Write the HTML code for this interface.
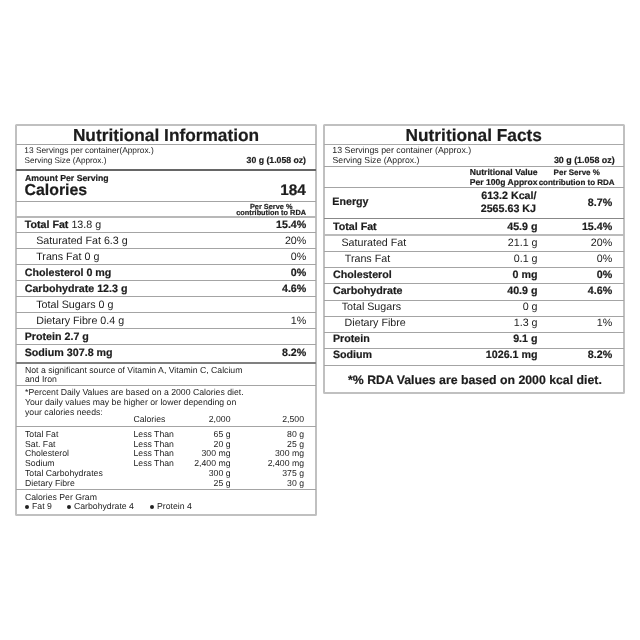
<!DOCTYPE html>
<html><head><meta charset="utf-8"><style>
html,body{margin:0;padding:0;background:#fff;}
body{width:640px;height:640px;position:relative;overflow:hidden;text-rendering:geometricPrecision;font-family:"Liberation Sans",sans-serif;color:#1c1c1c;}
.t{position:absolute;white-space:pre;}
.l{position:absolute;}
#w{position:absolute;left:0;top:0;width:640px;height:640px;filter:blur(0.3px);}
b{font-weight:bold;-webkit-text-stroke:0.2px #1c1c1c;}
</style></head><body>
<div id="w">
<div class="l" style="left:15px;top:124px;width:298px;height:388px;border:2px solid #c0c0c0;border-radius:1.5px"></div>
<div class="l" style="left:16.00px;width:299.75px;top:143.90px;height:1px;background:#a4a4a4"></div>
<div class="l" style="left:16.00px;width:299.75px;top:168.50px;height:2px;background:#666"></div>
<div class="l" style="left:16.00px;width:299.75px;top:201.00px;height:1px;background:#a4a4a4"></div>
<div class="l" style="left:16.00px;width:299.75px;top:215.90px;height:2px;background:#b8b8b8"></div>
<div class="l" style="left:16.00px;width:299.75px;top:232.00px;height:1px;background:#a4a4a4"></div>
<div class="l" style="left:16.00px;width:299.75px;top:248.25px;height:1px;background:#a4a4a4"></div>
<div class="l" style="left:16.00px;width:299.75px;top:263.90px;height:1px;background:#a4a4a4"></div>
<div class="l" style="left:16.00px;width:299.75px;top:280.10px;height:1px;background:#a4a4a4"></div>
<div class="l" style="left:16.00px;width:299.75px;top:296.40px;height:1px;background:#a4a4a4"></div>
<div class="l" style="left:16.00px;width:299.75px;top:312.00px;height:1px;background:#a4a4a4"></div>
<div class="l" style="left:16.00px;width:299.75px;top:328.00px;height:1px;background:#a4a4a4"></div>
<div class="l" style="left:16.00px;width:299.75px;top:343.90px;height:1px;background:#a4a4a4"></div>
<div class="l" style="left:16.00px;width:299.75px;top:362.10px;height:2px;background:#808080"></div>
<div class="l" style="left:16.00px;width:299.75px;top:385.10px;height:1px;background:#a4a4a4"></div>
<div class="l" style="left:16.00px;width:299.75px;top:426.00px;height:1px;background:#a4a4a4"></div>
<div class="l" style="left:16.00px;width:299.75px;top:489.00px;height:1px;background:#a4a4a4"></div>
<div class="t" style="top:126.95px;font-size:17.3px;line-height:17.3px;font-weight:bold;-webkit-text-stroke:0.2px #1c1c1c;left:-134.00px;width:600px;text-align:center;">Nutritional Information</div>
<div class="t" style="top:146.43px;font-size:8.35px;line-height:8.35px;left:24.30px;">13 Servings per container(Approx.)</div>
<div class="t" style="top:156.56px;font-size:8.2px;line-height:8.2px;left:24.50px;">Serving Size (Approx.)</div>
<div class="t" style="top:156.23px;font-size:8.7px;line-height:8.7px;font-weight:bold;-webkit-text-stroke:0.2px #1c1c1c;right:334.00px;text-align:right;">30 g (1.058 oz)</div>
<div class="t" style="top:173.63px;font-size:8.7px;line-height:8.7px;font-weight:bold;-webkit-text-stroke:0.2px #1c1c1c;left:25.00px;">Amount Per Serving</div>
<div class="t" style="top:183.04px;font-size:15.9px;line-height:15.9px;font-weight:bold;-webkit-text-stroke:0.2px #1c1c1c;left:24.50px;">Calories</div>
<div class="t" style="top:183.26px;font-size:15.4px;line-height:15.4px;font-weight:bold;-webkit-text-stroke:0.2px #1c1c1c;right:334.20px;text-align:right;">184</div>
<div class="t" style="top:203.03px;font-size:7.35px;line-height:7.35px;font-weight:bold;-webkit-text-stroke:0.2px #1c1c1c;left:-28.80px;width:600px;text-align:center;">Per Serve %</div>
<div class="t" style="top:209.18px;font-size:7.35px;line-height:7.35px;font-weight:bold;-webkit-text-stroke:0.2px #1c1c1c;right:334.00px;text-align:right;">contribution to RDA</div>
<div class="t" style="top:219.54px;font-size:10.7px;line-height:10.7px;left:24.70px;"><b>Total Fat</b> 13.8 g</div>
<div class="t" style="top:219.54px;font-size:10.7px;line-height:10.7px;right:333.70px;text-align:right;"><b>15.4%</b></div>
<div class="t" style="top:235.64px;font-size:10.7px;line-height:10.7px;left:36.20px;">Saturated Fat 6.3 g</div>
<div class="t" style="top:235.64px;font-size:10.7px;line-height:10.7px;right:333.70px;text-align:right;">20%</div>
<div class="t" style="top:251.64px;font-size:10.7px;line-height:10.7px;left:36.20px;">Trans Fat 0 g</div>
<div class="t" style="top:251.64px;font-size:10.7px;line-height:10.7px;right:333.70px;text-align:right;">0%</div>
<div class="t" style="top:267.74px;font-size:10.7px;line-height:10.7px;left:24.70px;"><b>Cholesterol 0 mg</b></div>
<div class="t" style="top:267.74px;font-size:10.7px;line-height:10.7px;right:333.70px;text-align:right;"><b>0%</b></div>
<div class="t" style="top:283.94px;font-size:10.7px;line-height:10.7px;left:24.70px;"><b>Carbohydrate 12.3 g</b></div>
<div class="t" style="top:283.94px;font-size:10.7px;line-height:10.7px;right:333.70px;text-align:right;"><b>4.6%</b></div>
<div class="t" style="top:299.94px;font-size:10.7px;line-height:10.7px;left:36.20px;">Total Sugars 0 g</div>
<div class="t" style="top:315.84px;font-size:10.7px;line-height:10.7px;left:36.20px;">Dietary Fibre 0.4 g</div>
<div class="t" style="top:315.84px;font-size:10.7px;line-height:10.7px;right:333.70px;text-align:right;">1%</div>
<div class="t" style="top:332.04px;font-size:10.7px;line-height:10.7px;left:24.70px;"><b>Protein 2.7 g</b></div>
<div class="t" style="top:348.34px;font-size:10.7px;line-height:10.7px;left:24.70px;"><b>Sodium 307.8 mg</b></div>
<div class="t" style="top:348.34px;font-size:10.7px;line-height:10.7px;right:333.70px;text-align:right;"><b>8.2%</b></div>
<div class="t" style="top:365.88px;font-size:8.7px;line-height:8.7px;left:25.00px;">Not a significant source of Vitamin A, Vitamin C, Calcium</div>
<div class="t" style="top:375.03px;font-size:8.7px;line-height:8.7px;left:25.00px;">and Iron</div>
<div class="t" style="top:388.13px;font-size:8.7px;line-height:8.7px;left:25.00px;">*Percent Daily Values are based on a 2000 Calories diet.</div>
<div class="t" style="top:398.13px;font-size:8.7px;line-height:8.7px;left:25.00px;">Your daily values may be higher or lower depending on</div>
<div class="t" style="top:407.53px;font-size:8.7px;line-height:8.7px;left:25.00px;">your calories needs:</div>
<div class="t" style="top:414.73px;font-size:8.7px;line-height:8.7px;left:133.50px;">Calories</div>
<div class="t" style="top:414.73px;font-size:8.7px;line-height:8.7px;right:409.50px;text-align:right;">2,000</div>
<div class="t" style="top:414.73px;font-size:8.7px;line-height:8.7px;right:336.00px;text-align:right;">2,500</div>
<div class="t" style="top:429.63px;font-size:8.7px;line-height:8.7px;left:25.00px;">Total Fat</div>
<div class="t" style="top:429.63px;font-size:8.7px;line-height:8.7px;left:133.50px;">Less Than</div>
<div class="t" style="top:429.63px;font-size:8.7px;line-height:8.7px;right:409.50px;text-align:right;">65 g</div>
<div class="t" style="top:429.63px;font-size:8.7px;line-height:8.7px;right:336.00px;text-align:right;">80 g</div>
<div class="t" style="top:439.63px;font-size:8.7px;line-height:8.7px;left:25.00px;">Sat. Fat</div>
<div class="t" style="top:439.63px;font-size:8.7px;line-height:8.7px;left:133.50px;">Less Than</div>
<div class="t" style="top:439.63px;font-size:8.7px;line-height:8.7px;right:409.50px;text-align:right;">20 g</div>
<div class="t" style="top:439.63px;font-size:8.7px;line-height:8.7px;right:336.00px;text-align:right;">25 g</div>
<div class="t" style="top:449.38px;font-size:8.7px;line-height:8.7px;left:25.00px;">Cholesterol</div>
<div class="t" style="top:449.38px;font-size:8.7px;line-height:8.7px;left:133.50px;">Less Than</div>
<div class="t" style="top:449.38px;font-size:8.7px;line-height:8.7px;right:409.50px;text-align:right;">300 mg</div>
<div class="t" style="top:449.38px;font-size:8.7px;line-height:8.7px;right:336.00px;text-align:right;">300 mg</div>
<div class="t" style="top:459.13px;font-size:8.7px;line-height:8.7px;left:25.00px;">Sodium</div>
<div class="t" style="top:459.13px;font-size:8.7px;line-height:8.7px;left:133.50px;">Less Than</div>
<div class="t" style="top:459.13px;font-size:8.7px;line-height:8.7px;right:409.50px;text-align:right;">2,400 mg</div>
<div class="t" style="top:459.13px;font-size:8.7px;line-height:8.7px;right:336.00px;text-align:right;">2,400 mg</div>
<div class="t" style="top:468.73px;font-size:8.7px;line-height:8.7px;left:25.00px;">Total Carbohydrates</div>
<div class="t" style="top:468.73px;font-size:8.7px;line-height:8.7px;right:409.50px;text-align:right;">300 g</div>
<div class="t" style="top:468.73px;font-size:8.7px;line-height:8.7px;right:336.00px;text-align:right;">375 g</div>
<div class="t" style="top:478.73px;font-size:8.7px;line-height:8.7px;left:25.00px;">Dietary Fibre</div>
<div class="t" style="top:478.73px;font-size:8.7px;line-height:8.7px;right:409.50px;text-align:right;">25 g</div>
<div class="t" style="top:478.73px;font-size:8.7px;line-height:8.7px;right:336.00px;text-align:right;">30 g</div>
<div class="t" style="top:492.53px;font-size:8.7px;line-height:8.7px;left:25.00px;">Calories Per Gram</div>
<div class="l" style="left:24.75px;top:505.20px;width:4px;height:4px;border-radius:50%;background:#222"></div>
<div class="t" style="top:502.13px;font-size:8.7px;line-height:8.7px;left:32.00px;">Fat 9</div>
<div class="l" style="left:66.75px;top:505.20px;width:4px;height:4px;border-radius:50%;background:#222"></div>
<div class="t" style="top:502.13px;font-size:8.7px;line-height:8.7px;left:74.00px;">Carbohydrate 4</div>
<div class="l" style="left:149.50px;top:505.20px;width:4px;height:4px;border-radius:50%;background:#222"></div>
<div class="t" style="top:502.13px;font-size:8.7px;line-height:8.7px;left:157.00px;">Protein 4</div>
<div class="l" style="left:323px;top:124px;width:298px;height:266px;border:2px solid #c0c0c0;border-radius:1.5px"></div>
<div class="l" style="left:323.75px;width:300.00px;top:143.90px;height:1px;background:#aaa"></div>
<div class="l" style="left:323.75px;width:300.00px;top:166.00px;height:1px;background:#a4a4a4"></div>
<div class="l" style="left:323.75px;width:300.00px;top:186.90px;height:1px;background:#a4a4a4"></div>
<div class="l" style="left:323.75px;width:300.00px;top:217.95px;height:1.5px;background:#888"></div>
<div class="l" style="left:323.75px;width:300.00px;top:233.90px;height:2px;background:#bbb"></div>
<div class="l" style="left:323.75px;width:300.00px;top:250.75px;height:1px;background:#a4a4a4"></div>
<div class="l" style="left:323.75px;width:300.00px;top:267.00px;height:1px;background:#a4a4a4"></div>
<div class="l" style="left:323.75px;width:300.00px;top:283.10px;height:1px;background:#a4a4a4"></div>
<div class="l" style="left:323.75px;width:300.00px;top:299.50px;height:1px;background:#a4a4a4"></div>
<div class="l" style="left:323.75px;width:300.00px;top:315.75px;height:1px;background:#a4a4a4"></div>
<div class="l" style="left:323.75px;width:300.00px;top:332.00px;height:1px;background:#a4a4a4"></div>
<div class="l" style="left:323.75px;width:300.00px;top:348.00px;height:1px;background:#a4a4a4"></div>
<div class="l" style="left:323.75px;width:300.00px;top:365.10px;height:1px;background:#a4a4a4"></div>
<div class="t" style="top:126.95px;font-size:17.3px;line-height:17.3px;font-weight:bold;-webkit-text-stroke:0.2px #1c1c1c;left:173.75px;width:600px;text-align:center;">Nutritional Facts</div>
<div class="t" style="top:146.05px;font-size:8.8px;line-height:8.8px;left:332.30px;">13 Servings per container (Approx.)</div>
<div class="t" style="top:156.23px;font-size:8.7px;line-height:8.7px;left:332.50px;">Serving Size (Approx.)</div>
<div class="t" style="top:156.06px;font-size:8.9px;line-height:8.9px;font-weight:bold;-webkit-text-stroke:0.2px #1c1c1c;right:25.40px;text-align:right;">30 g (1.058 oz)</div>
<div class="t" style="top:167.82px;font-size:8.6px;line-height:8.6px;font-weight:bold;-webkit-text-stroke:0.2px #1c1c1c;left:469.80px;">Nutritional Value</div>
<div class="t" style="top:177.86px;font-size:8.55px;line-height:8.55px;font-weight:bold;-webkit-text-stroke:0.2px #1c1c1c;left:469.80px;">Per 100g Approx</div>
<div class="t" style="top:169.03px;font-size:8.0px;line-height:8.0px;font-weight:bold;-webkit-text-stroke:0.2px #1c1c1c;left:276.75px;width:600px;text-align:center;">Per Serve %</div>
<div class="t" style="top:178.73px;font-size:8.0px;line-height:8.0px;font-weight:bold;-webkit-text-stroke:0.2px #1c1c1c;right:25.40px;text-align:right;">contribution to RDA</div>
<div class="t" style="top:197.04px;font-size:10.7px;line-height:10.7px;font-weight:bold;-webkit-text-stroke:0.2px #1c1c1c;left:332.30px;">Energy</div>
<div class="t" style="top:190.84px;font-size:10.7px;line-height:10.7px;font-weight:bold;-webkit-text-stroke:0.2px #1c1c1c;right:103.50px;text-align:right;">613.2 Kcal/</div>
<div class="t" style="top:203.94px;font-size:10.7px;line-height:10.7px;font-weight:bold;-webkit-text-stroke:0.2px #1c1c1c;right:104.00px;text-align:right;">2565.63 KJ</div>
<div class="t" style="top:198.19px;font-size:10.7px;line-height:10.7px;font-weight:bold;-webkit-text-stroke:0.2px #1c1c1c;right:27.80px;text-align:right;">8.7%</div>
<div class="t" style="top:221.69px;font-size:10.7px;line-height:10.7px;font-weight:bold;-webkit-text-stroke:0.2px #1c1c1c;left:332.95px;">Total Fat</div>
<div class="t" style="top:221.69px;font-size:10.7px;line-height:10.7px;font-weight:bold;-webkit-text-stroke:0.2px #1c1c1c;right:102.50px;text-align:right;">45.9 g</div>
<div class="t" style="top:221.69px;font-size:10.7px;line-height:10.7px;font-weight:bold;-webkit-text-stroke:0.2px #1c1c1c;right:27.80px;text-align:right;">15.4%</div>
<div class="t" style="top:237.94px;font-size:10.7px;line-height:10.7px;left:341.45px;">Saturated Fat</div>
<div class="t" style="top:237.94px;font-size:10.7px;line-height:10.7px;right:102.50px;text-align:right;">21.1 g</div>
<div class="t" style="top:237.94px;font-size:10.7px;line-height:10.7px;right:27.80px;text-align:right;">20%</div>
<div class="t" style="top:253.69px;font-size:10.7px;line-height:10.7px;left:344.80px;">Trans Fat</div>
<div class="t" style="top:253.69px;font-size:10.7px;line-height:10.7px;right:102.50px;text-align:right;">0.1 g</div>
<div class="t" style="top:253.69px;font-size:10.7px;line-height:10.7px;right:27.80px;text-align:right;">0%</div>
<div class="t" style="top:269.94px;font-size:10.7px;line-height:10.7px;font-weight:bold;-webkit-text-stroke:0.2px #1c1c1c;left:332.95px;">Cholesterol</div>
<div class="t" style="top:269.94px;font-size:10.7px;line-height:10.7px;font-weight:bold;-webkit-text-stroke:0.2px #1c1c1c;right:102.50px;text-align:right;">0 mg</div>
<div class="t" style="top:269.94px;font-size:10.7px;line-height:10.7px;font-weight:bold;-webkit-text-stroke:0.2px #1c1c1c;right:27.80px;text-align:right;">0%</div>
<div class="t" style="top:285.84px;font-size:10.7px;line-height:10.7px;font-weight:bold;-webkit-text-stroke:0.2px #1c1c1c;left:332.95px;">Carbohydrate</div>
<div class="t" style="top:285.84px;font-size:10.7px;line-height:10.7px;font-weight:bold;-webkit-text-stroke:0.2px #1c1c1c;right:102.50px;text-align:right;">40.9 g</div>
<div class="t" style="top:285.84px;font-size:10.7px;line-height:10.7px;font-weight:bold;-webkit-text-stroke:0.2px #1c1c1c;right:27.80px;text-align:right;">4.6%</div>
<div class="t" style="top:302.04px;font-size:10.7px;line-height:10.7px;left:341.70px;">Total Sugars</div>
<div class="t" style="top:302.04px;font-size:10.7px;line-height:10.7px;right:102.50px;text-align:right;">0 g</div>
<div class="t" style="top:317.94px;font-size:10.7px;line-height:10.7px;left:344.60px;">Dietary Fibre</div>
<div class="t" style="top:317.94px;font-size:10.7px;line-height:10.7px;right:102.50px;text-align:right;">1.3 g</div>
<div class="t" style="top:317.94px;font-size:10.7px;line-height:10.7px;right:27.80px;text-align:right;">1%</div>
<div class="t" style="top:333.94px;font-size:10.7px;line-height:10.7px;font-weight:bold;-webkit-text-stroke:0.2px #1c1c1c;left:332.95px;">Protein</div>
<div class="t" style="top:333.94px;font-size:10.7px;line-height:10.7px;font-weight:bold;-webkit-text-stroke:0.2px #1c1c1c;right:102.50px;text-align:right;">9.1 g</div>
<div class="t" style="top:350.44px;font-size:10.7px;line-height:10.7px;font-weight:bold;-webkit-text-stroke:0.2px #1c1c1c;left:332.95px;">Sodium</div>
<div class="t" style="top:350.44px;font-size:10.7px;line-height:10.7px;font-weight:bold;-webkit-text-stroke:0.2px #1c1c1c;right:102.50px;text-align:right;">1026.1 mg</div>
<div class="t" style="top:350.44px;font-size:10.7px;line-height:10.7px;font-weight:bold;-webkit-text-stroke:0.2px #1c1c1c;right:27.80px;text-align:right;">8.2%</div>
<div class="t" style="top:374.09px;font-size:12.3px;line-height:12.3px;font-weight:bold;-webkit-text-stroke:0.2px #1c1c1c;left:348.00px;">*% RDA Values are based on 2000 kcal diet.</div>
</div></body></html>
